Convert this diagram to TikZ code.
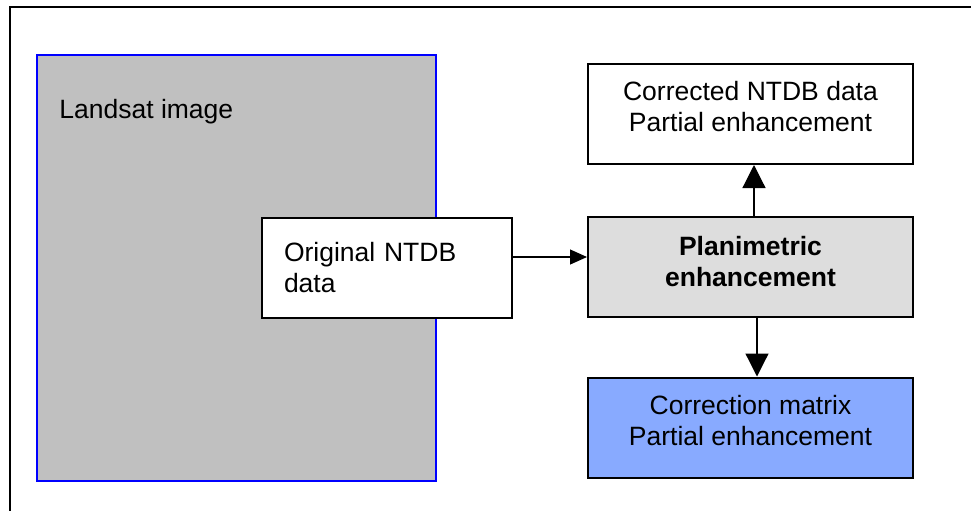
\documentclass[tikz,border=0pt]{standalone}
\usepackage{fontspec}
\setmainfont{Liberation Sans}
\usetikzlibrary{arrows.meta}

\definecolor{landgray}{HTML}{C0C0C0}
\definecolor{plangray}{HTML}{DDDDDD}
\definecolor{matrixblue}{HTML}{88AAFF}

\tikzset{
  databox/.style={draw, line width=1pt, minimum width=162.5pt, minimum height=50pt,
    align=center, text depth=7.5pt},
  flow/.style={line width=0.6pt, -{Triangle[width=11.5pt,length=11.5pt]}},
  flowsmall/.style={line width=0.6pt, -{Triangle[width=7.5pt,length=8.5pt]}}
}

\begin{document}
\begin{tikzpicture}[x=0.5pt, y=-0.5pt, font=\fontsize{13.25}{15.5}\selectfont]
\useasboundingbox (0,0) rectangle (971,510);
% page frame, runs off the right and bottom edges
\draw[line width=1.3pt] (10,530) -- (10,7) -- (990,7);

% image and its label
\node[draw=blue, line width=1pt, fill=landgray, minimum width=199.5pt, minimum height=213pt]
  (landsat) at (236.5,268) {};
\node[anchor=base west, inner sep=0pt] (landsatlabel) at (59,118) {Landsat image};

% input data
\node[draw, fill=white, line width=1pt, minimum width=125pt, minimum height=50pt,
  text width=103pt, inner xsep=11pt, align=left] (orig) at (387,268)
  {Original NTDB\\data};

% processing step and its results
\node[databox, fill=plangray, text depth=6pt, font=\fontsize{13.25}{15.5}\selectfont\bfseries]
  (plan) at (750.5,267) {Planimetric\\enhancement};
\node[databox, fill=white] (corr) at (750.5,114)
  {Corrected NTDB data\\Partial enhancement};
\node[databox, fill=matrixblue] (cmat) at (750.5,427.5)
  {Correction matrix\\Partial enhancement};

\draw[flowsmall] ([yshift=5.5pt]orig.east) coordinate (o) -- (o -| plan.west);
\draw[flow] ([xshift=1.75pt]plan.north) coordinate (p) -- (p |- corr.south);
\draw[flow] ([xshift=3.25pt]plan.south) coordinate (q) -- (q |- cmat.north);
\end{tikzpicture}
\end{document}
